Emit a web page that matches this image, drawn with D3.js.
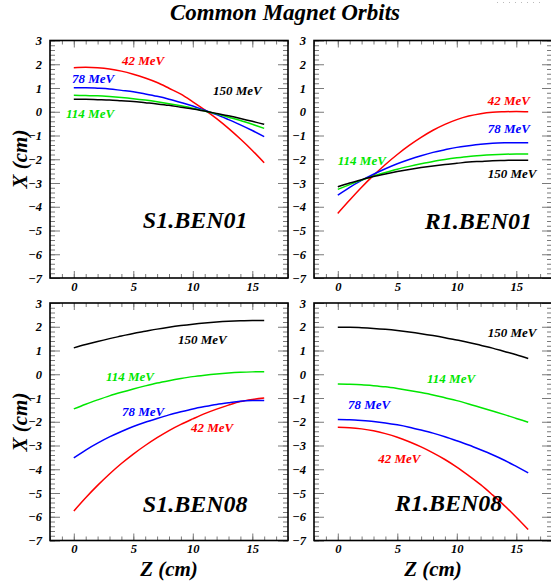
<!DOCTYPE html>
<html>
<head>
<meta charset="utf-8">
<script src="https://cdn.jsdelivr.net/npm/d3@7"></script>
<style>
body { margin: 0; background: #fff; }
text { font-family: "Liberation Serif", "Times New Roman", serif; font-weight: bold; font-style: italic; }
</style>
</head>
<body>
<script>
// z positions along the magnet (cm)
var zValues = [0, 1, 2, 3, 4, 5, 6, 7, 8, 9, 10, 11, 12, 13, 14, 15, 16];
var energies = ["42 MeV", "78 MeV", "114 MeV", "150 MeV"];
var colors = ["#ff0000", "#0000ff", "#00e600", "#000000"];

// orbits X(z)
var s1ben01_42  = [1.85, 1.87, 1.85, 1.80, 1.71, 1.58, 1.42, 1.23, 0.99, 0.74, 0.42, 0.08, -0.29, -0.70, -1.15, -1.63, -2.15];
var s1ben01_78  = [1.01, 1.01, 0.99, 0.96, 0.90, 0.84, 0.75, 0.65, 0.53, 0.39, 0.24, 0.06, -0.12, -0.33, -0.55, -0.79, -1.05];
var s1ben01_114 = [0.69, 0.68, 0.67, 0.64, 0.60, 0.55, 0.49, 0.42, 0.34, 0.25, 0.15, 0.03, -0.09, -0.23, -0.37, -0.53, -0.70];
var s1ben01_150 = [0.53, 0.53, 0.51, 0.49, 0.46, 0.43, 0.38, 0.33, 0.27, 0.19, 0.12, 0.03, -0.07, -0.17, -0.28, -0.40, -0.53];

var r1ben01_42  = [-4.28, -3.72, -3.18, -2.68, -2.22, -1.80, -1.42, -1.08, -0.78, -0.53, -0.33, -0.18, -0.08, -0.02, 0.00, 0.01, 0.00];
var r1ben01_78  = [-3.51, -3.18, -2.89, -2.63, -2.40, -2.19, -2.01, -1.85, -1.71, -1.60, -1.50, -1.43, -1.37, -1.33, -1.31, -1.30, -1.30];
var r1ben01_114 = [-3.27, -3.07, -2.88, -2.71, -2.56, -2.42, -2.30, -2.19, -2.09, -2.01, -1.94, -1.88, -1.84, -1.81, -1.79, -1.78, -1.78];
var r1ben01_150 = [-3.16, -3.00, -2.86, -2.73, -2.62, -2.52, -2.43, -2.35, -2.28, -2.22, -2.17, -2.12, -2.09, -2.06, -2.05, -2.04, -2.04];

var s1ben08_42  = [-5.76, -5.20, -4.68, -4.20, -3.76, -3.36, -3.00, -2.67, -2.37, -2.11, -1.88, -1.66, -1.47, -1.30, -1.15, -1.06, -1.00];
var s1ben08_78  = [-3.52, -3.19, -2.90, -2.64, -2.41, -2.20, -2.02, -1.86, -1.71, -1.58, -1.46, -1.36, -1.27, -1.20, -1.14, -1.11, -1.10];
var s1ben08_114 = [-1.46, -1.26, -1.08, -0.91, -0.76, -0.62, -0.49, -0.37, -0.27, -0.18, -0.10, -0.04, 0.01, 0.05, 0.08, 0.10, 0.11];
var s1ben08_150 = [1.11, 1.25, 1.38, 1.50, 1.61, 1.72, 1.81, 1.90, 1.98, 2.05, 2.11, 2.16, 2.20, 2.23, 2.25, 2.26, 2.26];

var r1ben08_42  = [-2.23, -2.25, -2.30, -2.38, -2.50, -2.65, -2.84, -3.06, -3.31, -3.59, -3.91, -4.27, -4.65, -5.08, -5.53, -6.02, -6.54];
var r1ben08_78  = [-1.91, -1.92, -1.95, -1.99, -2.05, -2.13, -2.23, -2.35, -2.48, -2.63, -2.80, -2.98, -3.18, -3.39, -3.62, -3.88, -4.15];
var r1ben08_114 = [-0.41, -0.42, -0.44, -0.48, -0.53, -0.60, -0.68, -0.77, -0.87, -0.99, -1.11, -1.25, -1.40, -1.55, -1.70, -1.86, -2.02];
var r1ben08_150 = [1.98, 1.98, 1.96, 1.93, 1.89, 1.84, 1.78, 1.71, 1.63, 1.54, 1.44, 1.34, 1.22, 1.10, 0.96, 0.82, 0.66];

var xTicks = [0, 5, 10, 15];
var yTicks = [-7, -6, -5, -4, -3, -2, -1, 0, 1, 2, 3];

var width = 551, height = 581;
var W = 238, H = 237.5;
var serif = "'Liberation Serif', 'Times New Roman', serif";

var svg = d3.select("body").append("svg")
    .attr("width", width)
    .attr("height", height);

svg.append("rect").attr("width", width).attr("height", height).attr("fill", "#fff");

// faint dotted mark in the upper right corner
svg.append("line")
    .attr("x1", 497).attr("x2", 545).attr("y1", 2.5).attr("y2", 2.5)
    .attr("stroke", "#bbb").attr("stroke-dasharray", "1,5");

svg.append("text")
    .attr("x", 285).attr("y", 20)
    .attr("text-anchor", "middle")
    .attr("font-size", 23)
    .text("Common Magnet Orbits");

// label anchors are in data coordinates (z, X)
var panels = [
    {name: "S1.BEN01", left: 50, top: 40.5,
     series: [s1ben01_42, s1ben01_78, s1ben01_114, s1ben01_150],
     labelAt: [[4.05, 1.97], [-0.15, 1.21], [-0.65, -0.26], [11.7, 0.71]],
     nameAt: [5.8, -4.89]},
    {name: "R1.BEN01", left: 314, top: 40.5,
     series: [r1ben01_42, r1ben01_78, r1ben01_114, r1ben01_150],
     labelAt: [[12.6, 0.28], [12.6, -0.89], [0.0, -2.24], [12.6, -2.79]],
     nameAt: [7.3, -4.94]},
    {name: "S1.BEN08", left: 50, top: 303,
     series: [s1ben08_42, s1ben08_78, s1ben08_114, s1ben08_150],
     labelAt: [[9.85, -2.42], [4.05, -1.75], [2.7, -0.28], [8.75, 1.28]],
     nameAt: [5.8, -5.78]},
    {name: "R1.BEN08", left: 314, top: 303,
     series: [r1ben08_42, r1ben08_78, r1ben08_114, r1ben08_150],
     labelAt: [[3.4, -3.72], [0.85, -1.45], [7.5, -0.36], [12.6, 1.57]],
     nameAt: [4.8, -5.74]}
];

panels.forEach(function (p) {

    var g = svg.append("g").attr("transform", "translate(" + p.left + "," + p.top + ")");

    var x = d3.scaleLinear().domain([-2, 18]).range([0, W]);
    var y = d3.scaleLinear().domain([-7, 3]).range([H, 0]);

    var minorX = d3.range(-2, 19);
    var minorY = d3.range(-35, 16).map(function (d) { return d / 5; });

    function tidy(sel) {
        sel.select(".domain").remove();
        sel.selectAll("line").attr("stroke", "#7a7a7a").attr("stroke-width", 1);
        sel.attr("font-family", serif).attr("font-size", 12.5);
    }

    // minor ticks on all four sides
    g.append("g").attr("transform", "translate(0," + H + ")")
        .call(d3.axisBottom(x).tickValues(minorX).tickSize(-4).tickFormat("")).call(tidy);
    g.append("g")
        .call(d3.axisTop(x).tickValues(minorX).tickSize(-4).tickFormat("")).call(tidy);
    g.append("g")
        .call(d3.axisLeft(y).tickValues(minorY).tickSize(-5).tickFormat("")).call(tidy);
    g.append("g").attr("transform", "translate(" + W + ",0)")
        .call(d3.axisRight(y).tickValues(minorY).tickSize(-5).tickFormat("")).call(tidy);

    // major ticks with labels
    g.append("g").attr("transform", "translate(0," + H + ")")
        .call(d3.axisBottom(x).tickValues(xTicks).tickSize(-7).tickPadding(4).tickFormat(d3.format("d")))
        .call(tidy);
    g.append("g")
        .call(d3.axisTop(x).tickValues(xTicks).tickSize(-7).tickFormat("")).call(tidy);
    g.append("g")
        .call(d3.axisLeft(y).tickValues(yTicks).tickSize(-10).tickPadding(8).tickFormat(d3.format("d")))
        .call(tidy);
    g.append("g").attr("transform", "translate(" + W + ",0)")
        .call(d3.axisRight(y).tickValues(yTicks).tickSize(-10).tickFormat("")).call(tidy);

    g.append("rect")
        .attr("width", W).attr("height", H)
        .attr("fill", "none")
        .attr("stroke", "#000")
        .attr("stroke-width", 1.6);

    var line = d3.line()
        .curve(d3.curveMonotoneX)
        .x(function (d, i) { return x(zValues[i]); })
        .y(function (d) { return y(d); });

    p.series.forEach(function (s, i) {
        g.append("path")
            .datum(s)
            .attr("d", line)
            .attr("fill", "none")
            .attr("stroke", colors[i])
            .attr("stroke-width", 1.5);

        g.append("text")
            .attr("x", x(p.labelAt[i][0]))
            .attr("y", y(p.labelAt[i][1]))
            .attr("font-size", 13)
            .attr("fill", colors[i])
            .text(energies[i]);
    });

    g.append("text")
        .attr("x", x(p.nameAt[0]))
        .attr("y", y(p.nameAt[1]))
        .attr("font-size", 24)
        .text(p.name);
});

// axis titles
[159, 422].forEach(function (cy) {
    svg.append("text")
        .attr("transform", "translate(27," + cy + ") rotate(-90)")
        .attr("text-anchor", "middle")
        .attr("font-size", 21)
        .text("X (cm)");
});

[169, 433].forEach(function (cx) {
    svg.append("text")
        .attr("x", cx).attr("y", 576)
        .attr("text-anchor", "middle")
        .attr("font-size", 21)
        .text("Z (cm)");
});
</script>
</body>
</html>
